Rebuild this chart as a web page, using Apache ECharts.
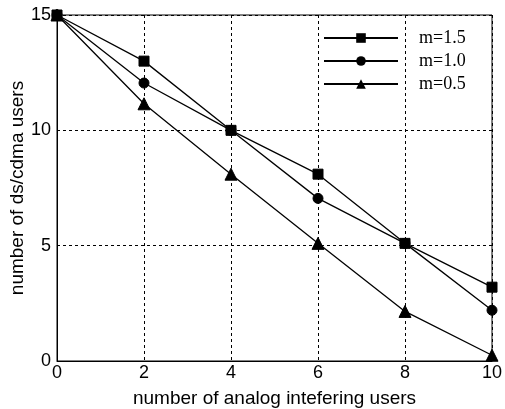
<!DOCTYPE html>
<html><head><meta charset="utf-8">
<script src="https://cdn.jsdelivr.net/npm/echarts@6/dist/echarts.min.js"></script>
<style>html,body{margin:0;padding:0;background:#fff}#c{width:505px;height:409px}</style>
</head><body><div id="c"></div>
<script>
const xValues = [0, 2, 4, 6, 8, 10];
const m15 = [15, 13, 10, 8.1, 5.1, 3.2];
const m10 = [15, 12.05, 10, 7.05, 5.1, 2.2];
const m05 = [15, 11.15, 8.1, 5.1, 2.15, 0.25];
const seriesNames = ['m=1.5', 'm=1.0', 'm=0.5'];
const seriesSymbols = ['rect', 'circle', 'triangle'];
const symbolSizes = [10, 10, 12];
const allData = [m15, m10, m05];

const chart = echarts.init(document.getElementById('c'));
const sans = 'Liberation Sans, Arial, sans-serif';
chart.setOption({
  animation: false,
  backgroundColor: '#fff',
  grid: {left: 57, right: 13, top: 15, bottom: 48, outerBoundsMode: 'none', containLabel: false, show: true, borderColor: '#000', borderWidth: 1, backgroundColor: 'transparent'},
  legend: {
    orient: 'vertical', left: 323, top: 29, padding: 0, itemWidth: 74, itemHeight: 12, itemGap: 5,
    data: seriesNames,
    textStyle: {fontFamily: 'Liberation Serif, Times New Roman, serif', fontSize: 18, color: '#000', padding: [0, 0, 0, 16], lineHeight: 12}
  },
  xAxis: {
    type: 'value', min: 0, max: 10, interval: 2,
    name: 'number of analog intefering users', nameLocation: 'middle', nameGap: 28, nameMoveOverlap: false,
    nameTextStyle: {fontFamily: sans, fontSize: 19, color: '#000'},
    axisLine: {show: true, lineStyle: {color: '#000', width: 1}},
    axisTick: {show: false},
    axisLabel: {fontFamily: sans, fontSize: 18, color: '#000', margin: 3},
    splitLine: {show: true, lineStyle: {color: '#000', type: [3, 3], width: 1}}
  },
  yAxis: {
    type: 'value', min: 0, max: 15, interval: 5,
    name: 'number of ds/cdma users', nameLocation: 'middle', nameGap: 30, nameMoveOverlap: false,
    nameTextStyle: {fontFamily: sans, fontSize: 19, color: '#000'},
    axisLine: {show: true, lineStyle: {color: '#000', width: 1}},
    axisTick: {show: false},
    axisLabel: {fontFamily: sans, fontSize: 18, color: '#000', margin: 6},
    splitLine: {show: true, lineStyle: {color: '#000', type: [3, 3], width: 1}}
  },
  series: allData.map((d, i) => ({
    type: 'line', name: seriesNames[i],
    data: d.map((v, j) => [xValues[j], v]),
    symbol: seriesSymbols[i], symbolSize: symbolSizes[i], showAllSymbol: true,
    lineStyle: {color: '#000', width: 1.3},
    itemStyle: {color: '#000', borderColor: '#000'},
    clip: false
  }))
});
</script></body></html>
